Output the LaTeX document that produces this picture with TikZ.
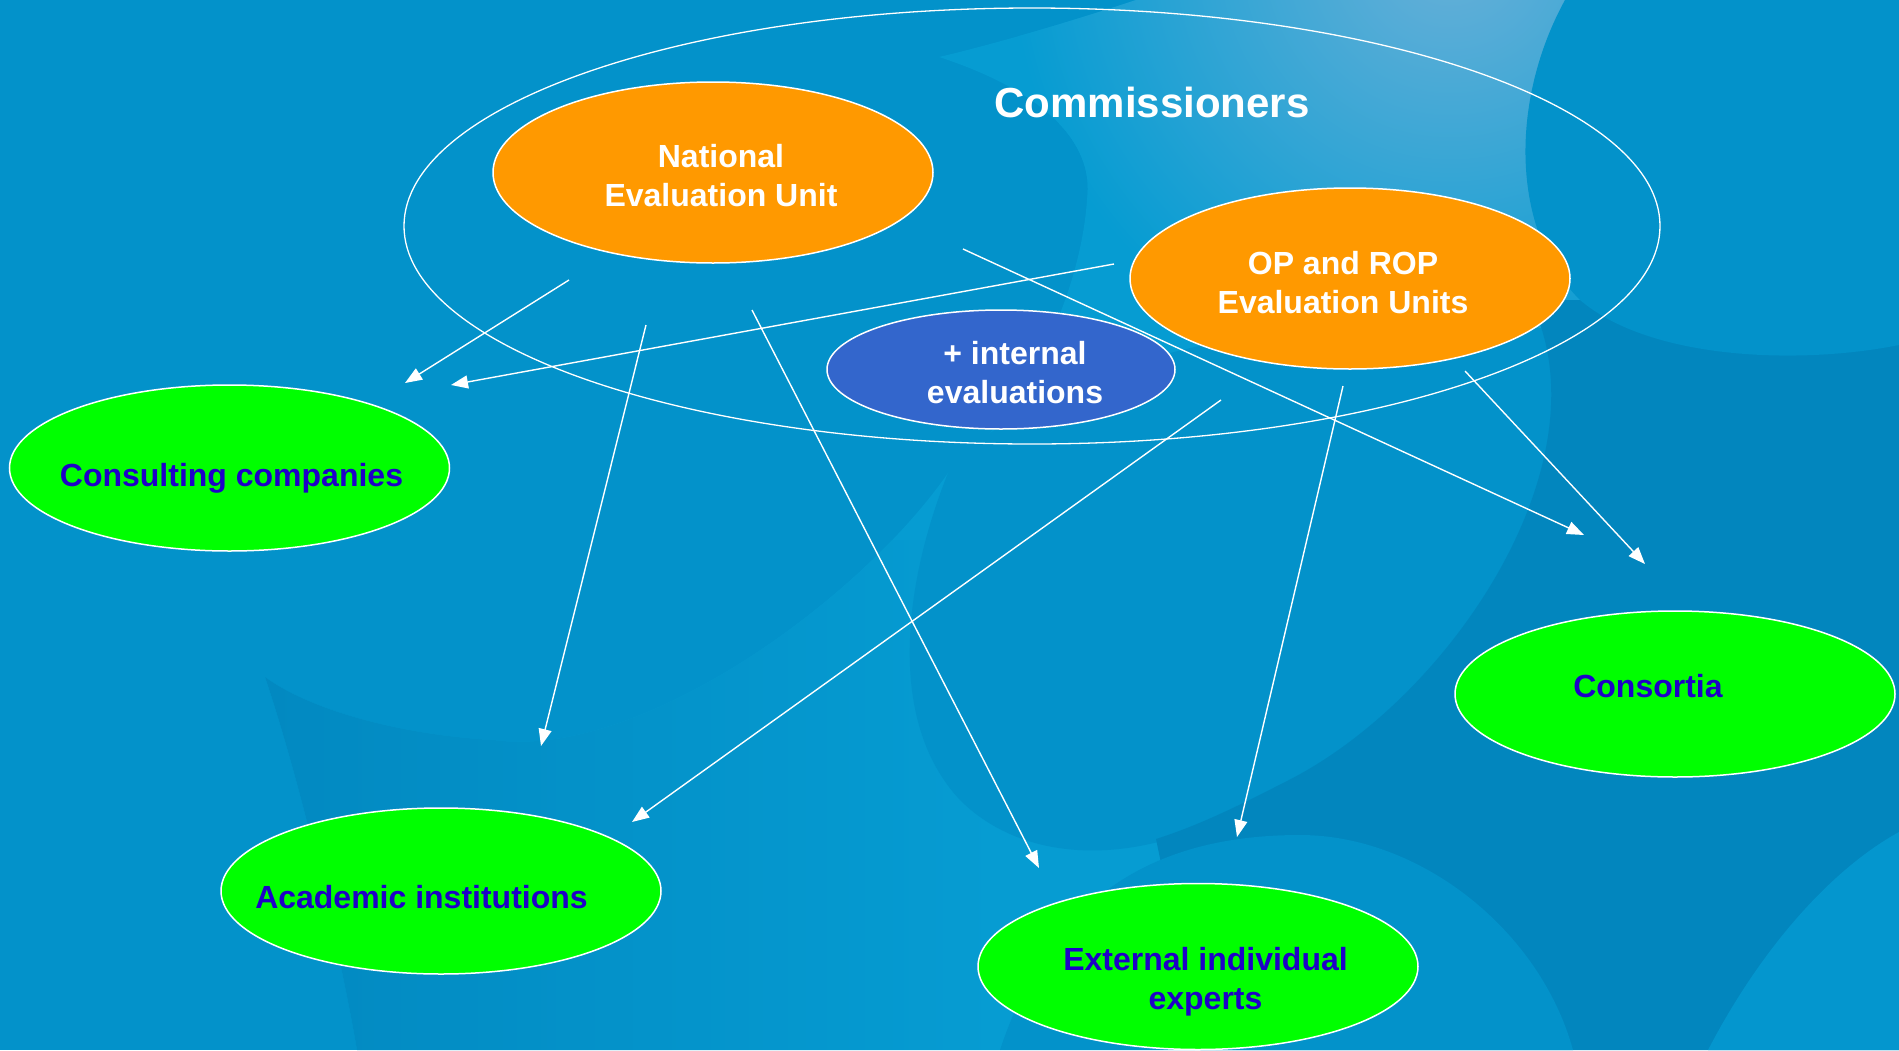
\documentclass[tikz,border=0pt]{standalone}
\usepackage{fontspec}
\setmainfont{Liberation Sans}
\usetikzlibrary{shapes.geometric,arrows.meta}
\definecolor{seabase}{RGB}{3,146,202}
\definecolor{seadark}{RGB}{2,134,190}
\definecolor{seadeep}{RGB}{2,137,193}
\definecolor{swoosh}{RGB}{6,156,210}
\definecolor{swooshtop}{RGB}{104,176,216}
\definecolor{seacorner}{RGB}{4,150,206}
\definecolor{unitorange}{RGB}{255,153,0}
\definecolor{internalblue}{RGB}{51,102,204}
\definecolor{firmgreen}{RGB}{0,255,0}
\definecolor{firmblue}{RGB}{30,0,200}

\begin{document}
\begin{tikzpicture}[x=1pt,y=-1pt,
		unit/.style={ellipse,draw=white,line width=1.5pt,fill=unitorange,minimum width=440pt,minimum height=181pt,inner sep=0pt},
		internal/.style={ellipse,draw=white,line width=1.5pt,fill=internalblue,minimum width=348pt,minimum height=119pt,inner sep=0pt},
		firm/.style={ellipse,draw=white,line width=1.5pt,fill=firmgreen,minimum width=440pt,minimum height=166pt,inner sep=0pt},
		whitetext/.style={text=white,font=\fontsize{32}{39}\selectfont\bfseries,align=center,inner sep=0pt},
		bluetext/.style={text=firmblue,font=\fontsize{32}{39}\selectfont\bfseries,align=center,inner sep=0pt},
		link/.style={white,line width=1.4pt,-{Triangle[length=17pt,width=13pt]}}]
		\fill[seabase] (0,0) rectangle (1899,1050);
		\begin{scope}
			\clip (1136,0) .. controls (1060,25) and (990,45) .. (939,57) .. controls (1040,90) and (1095,140) .. (1087,200) .. controls (1080,300) and (1020,420) .. (948,473) .. controls (860,600) and (640,760) .. (494,740) .. controls (400,735) and (310,710) .. (265,677) .. controls (300,780) and (340,950) .. (357,1050) -- (1899,1050) -- (1899,0) -- cycle;
			\fill[swoosh] (0,0) rectangle (1899,1050);
			\shade[inner color=swooshtop,outer color=swoosh] (1450,-50) circle (440);
			\shade[left color=seadeep,right color=swoosh] (265,540) rectangle (1000,1050);
		\end{scope}
		\fill[seabase] (948,473) .. controls (905,580) and (885,720) .. (960,800) .. controls (1030,870) and (1160,870) .. (1285,782) -- (1700,700) -- (1700,330) -- (1560,330) .. controls (1300,300) and (1040,360) .. cycle;
		\fill[seadark] (1530,300) .. controls (1610,460) and (1450,700) .. (1285,782) .. controls (1240,805) and (1200,825) .. (1156,839) -- (1200,1050) -- (1899,1050) -- (1899,300) -- cycle;
		\fill[seabase] (1000,1050) .. controls (1050,900) and (1150,835) .. (1300,835) .. controls (1420,835) and (1540,930) .. (1573,1050) -- cycle;
		\fill[seacorner] (1708,1050) .. controls (1760,950) and (1830,870) .. (1899,832) -- (1899,1050) -- cycle;
		\fill[seabase] (1565,0) .. controls (1510,100) and (1510,230) .. (1580,300) .. controls (1650,360) and (1800,365) .. (1899,345) -- (1899,0) -- cycle;

		\node[ellipse,draw=white,line width=1.3pt,minimum width=1256pt,minimum height=436pt] (commissioners) at (1032,226) {};
		\node[whitetext,font=\fontsize{42}{50}\selectfont\bfseries] (commtitle) at (1152,102) {Commissioners};
		\node[unit,label={[whitetext,xshift=8pt,yshift=-3.3pt]center:National\\Evaluation Unit}] (neu) at (713,172.5) {};
		\node[unit,label={[whitetext,xshift=-7pt,yshift=-4pt]center:OP and ROP\\Evaluation Units}] (opu) at (1350,278.5) {};
		\node[internal,label={[whitetext,xshift=14pt,yshift=-3.5pt]center:+ internal\\evaluations}] (internal) at (1001,369.5) {};
		\node[firm,label={[bluetext,xshift=2pt,yshift=-10pt]center:Consulting companies}] (consulting) at (229.5,468) {};
		\node[firm,label={[bluetext,xshift=-19.5pt,yshift=-6pt]center:Academic institutions}] (academic) at (441,891) {};
		\node[firm,label={[bluetext,xshift=7.5pt,yshift=-15pt]center:External individual\\experts}] (experts) at (1198,966.5) {};
		\node[firm,label={[bluetext,xshift=-27pt,yshift=8pt]center:Consortia}] (consortia) at (1675,694) {};

		\coordinate (nc1) at (569,280);
		\coordinate (nc2) at (405,383);
		\coordinate (oc1) at (1114,264);
		\coordinate (oc2) at (451,385);
		\coordinate (na1) at (646,325);
		\coordinate (na2) at (541,746);
		\coordinate (ne1) at (752,310);
		\coordinate (ne2) at (1039,868);
		\coordinate (nk1) at (963,249);
		\coordinate (nk2) at (1584,535);
		\coordinate (oa1) at (1221,400);
		\coordinate (oa2) at (632,822);
		\coordinate (oe1) at (1343,386);
		\coordinate (oe2) at (1237,837);
		\coordinate (ok1) at (1465,371);
		\coordinate (ok2) at (1645,564);
		\draw[link] (nc1) -- (nc2);
		\draw[link] (oc1) -- (oc2);
		\draw[link] (na1) -- (na2);
		\draw[link] (ne1) -- (ne2);
		\draw[link] (nk1) -- (nk2);
		\draw[link] (oa1) -- (oa2);
		\draw[link] (oe1) -- (oe2);
		\draw[link] (ok1) -- (ok2);
		\pgfresetboundingbox
		\useasboundingbox (0,0) rectangle (1899,1050);
	\end{tikzpicture}
\end{document}
